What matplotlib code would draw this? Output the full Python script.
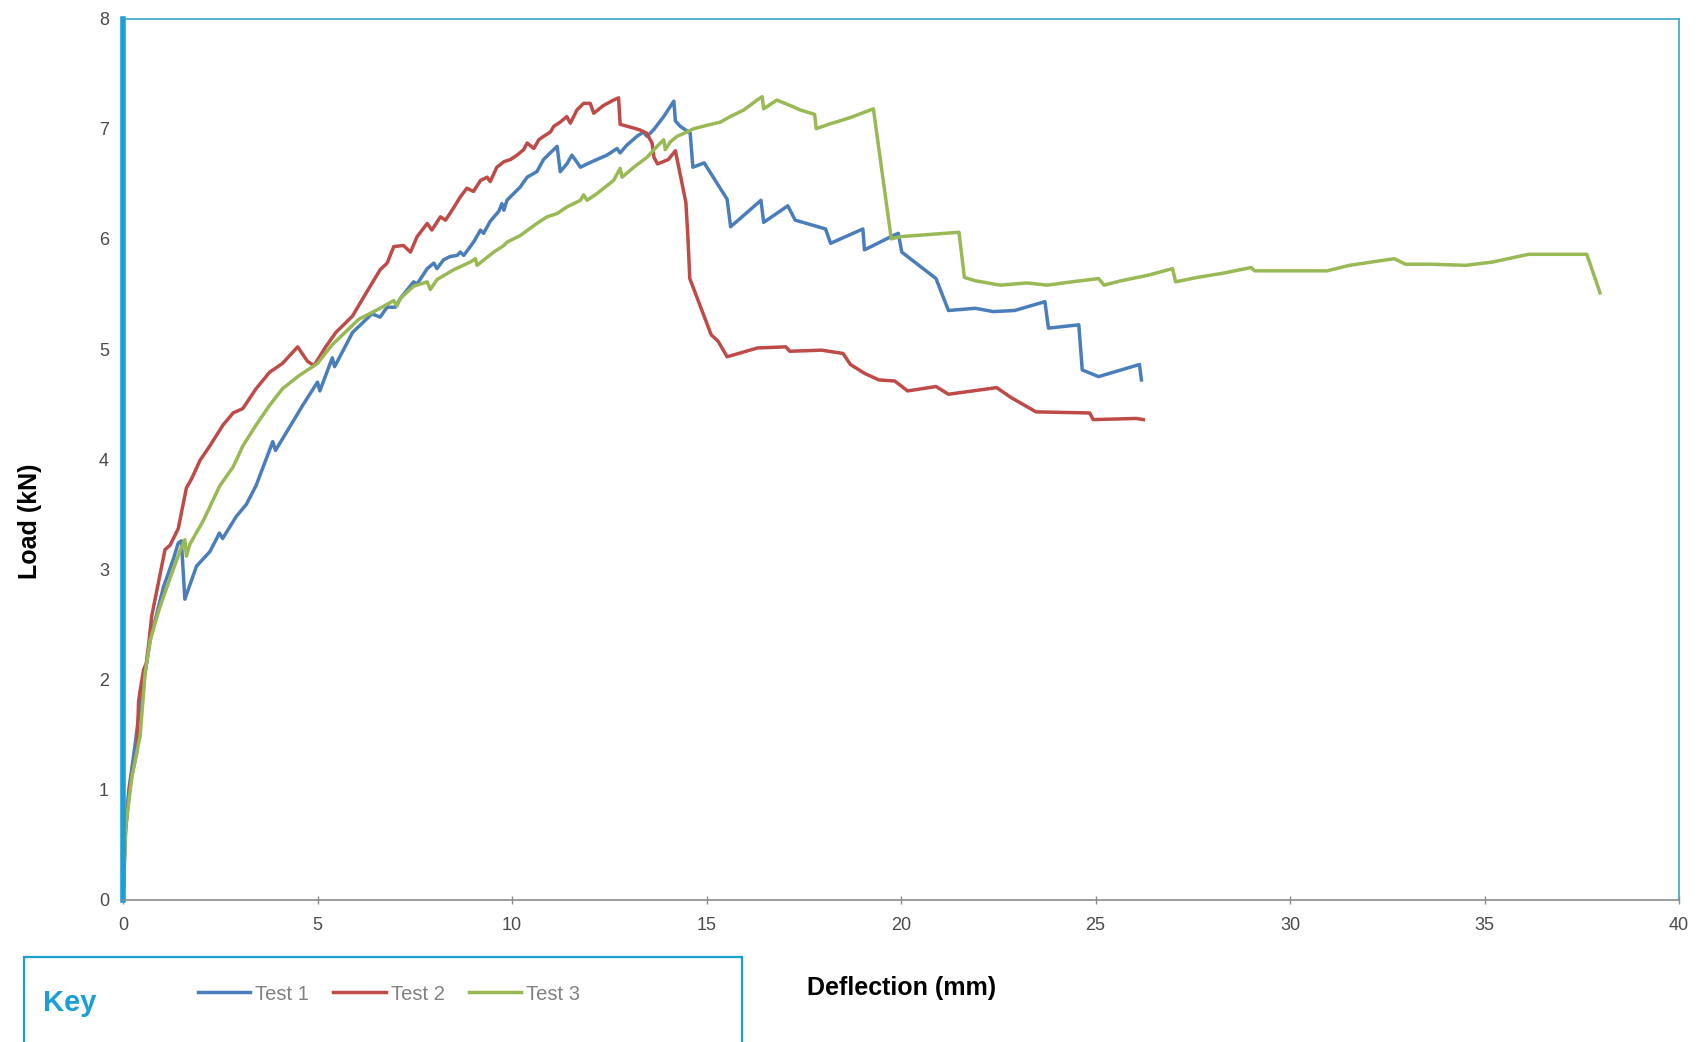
import matplotlib
matplotlib.use("Agg")
import matplotlib.pyplot as plt
from matplotlib.patches import Rectangle

plt.rcParams["font.family"] = ["Liberation Sans", "DejaVu Sans"]

# Test 1 (blue)
test1_x = [0, 0.05, 0.15, 0.3, 0.45, 0.7, 1.04, 1.3, 1.42, 1.5, 1.59, 1.89, 2.23, 2.48, 2.56,
           2.91, 3.17, 3.42, 3.85, 3.92, 4.28, 4.62, 5.0, 5.06, 5.38, 5.44, 5.9, 6.4, 6.61,
           6.79, 7.0, 7.13, 7.47, 7.56, 7.82, 7.99, 8.07, 8.24, 8.41, 8.59, 8.67, 8.76, 9.01,
           9.19, 9.27, 9.44, 9.66, 9.74, 9.79, 9.87, 10.21, 10.39, 10.64, 10.81, 11.07, 11.16,
           11.24, 11.41, 11.54, 11.76, 11.93, 12.18, 12.44, 12.70, 12.78, 12.95, 13.21, 13.38,
           13.47, 13.64, 13.90, 14.16, 14.20, 14.33, 14.58, 14.65, 14.94, 15.53, 15.62, 16.40,
           16.47, 17.09, 17.28, 18.06, 18.19, 19.02, 19.06, 19.80, 19.93, 20.02, 20.90, 21.22,
           21.91, 22.37, 22.92, 23.70, 23.79, 24.57, 24.66, 25.08, 26.13, 26.18]
test1_y = [0, 0.6, 1.0, 1.38, 1.8, 2.36, 2.84, 3.1, 3.24, 3.26, 2.73, 3.03, 3.16, 3.33, 3.28,
           3.48, 3.59, 3.76, 4.16, 4.08, 4.29, 4.49, 4.7, 4.62, 4.92, 4.84, 5.15, 5.32, 5.29,
           5.38, 5.38, 5.46, 5.61, 5.59, 5.73, 5.78, 5.73, 5.81, 5.84, 5.85, 5.88, 5.85, 5.97,
           6.08, 6.05, 6.16, 6.25, 6.32, 6.26, 6.35, 6.47, 6.56, 6.61, 6.72, 6.81, 6.84,
           6.61, 6.68, 6.76, 6.65, 6.68, 6.72, 6.76, 6.82, 6.78, 6.85, 6.93, 6.97,
           6.93, 6.99, 7.11, 7.25, 7.07, 7.02, 6.96, 6.65, 6.69, 6.36, 6.11, 6.35,
           6.15, 6.30, 6.17, 6.09, 5.96, 6.09, 5.90, 6.03, 6.05, 5.88, 5.64, 5.35,
           5.37, 5.34, 5.35, 5.43, 5.19, 5.22, 4.81, 4.75, 4.86, 4.72]

# Test 2 (red)
test2_x = [0, 0.06, 0.18, 0.36, 0.40, 0.44, 0.53, 0.60, 0.66, 0.74, 0.91, 1.08, 1.21, 1.42,
           1.63, 1.76, 1.98, 2.23, 2.57, 2.83, 3.08, 3.42, 3.77, 4.10, 4.49, 4.74, 4.91, 5.21,
           5.47, 5.90, 6.15, 6.61, 6.79, 6.96, 7.21, 7.39, 7.56, 7.82, 7.94, 8.16, 8.29, 8.46,
           8.67, 8.84, 9.01, 9.19, 9.36, 9.44, 9.61, 9.79, 9.96, 10.13, 10.30, 10.39, 10.56,
           10.69, 10.81, 10.99, 11.07, 11.24, 11.41, 11.50, 11.67, 11.84, 12.01, 12.10, 12.35,
           12.61, 12.74, 12.78, 13.28, 13.46, 13.60, 13.65, 13.74, 14.02, 14.20, 14.47, 14.52,
           14.57, 15.12, 15.30, 15.53, 16.31, 17.04, 17.14, 17.96, 18.51, 18.70, 19.06, 19.43,
           19.84, 20.17, 20.90, 21.22, 22.46, 22.83, 23.47, 24.85, 24.94, 26.04, 26.23]
test2_y = [0, 0.6, 1.05, 1.35, 1.8, 1.9, 2.09, 2.15, 2.32, 2.58, 2.88, 3.18, 3.22, 3.37,
           3.74, 3.82, 3.99, 4.12, 4.31, 4.42, 4.46, 4.64, 4.79, 4.87, 5.02, 4.89, 4.85, 5.02,
           5.15, 5.30, 5.45, 5.72, 5.78, 5.93, 5.94, 5.88, 6.02, 6.14, 6.08, 6.20, 6.17, 6.26,
           6.38, 6.46, 6.43, 6.53, 6.56, 6.52, 6.65, 6.70, 6.72, 6.76, 6.81, 6.87, 6.82,
           6.90, 6.93, 6.97, 7.02, 7.06, 7.11, 7.05, 7.17, 7.23, 7.23, 7.14, 7.21,
           7.26, 7.28, 7.04, 6.99, 6.96, 6.87, 6.74, 6.68, 6.72, 6.80, 6.33, 6.03,
           5.64, 5.13, 5.07, 4.93, 5.01, 5.02, 4.98, 4.99, 4.96, 4.86, 4.78, 4.72,
           4.71, 4.62, 4.66, 4.59, 4.65, 4.56, 4.43, 4.42, 4.36, 4.37, 4.36]

# Test 3 (green)
test3_x = [0, 0.08, 0.23, 0.44, 0.57, 0.70, 0.95, 1.25, 1.50, 1.59, 1.63, 1.72, 2.06, 2.49,
           2.83, 3.08, 3.42, 3.77, 4.10, 4.53, 5.0, 5.38, 6.06, 6.61, 6.96, 7.04, 7.13, 7.47,
           7.82, 7.90, 8.07, 8.50, 8.93, 9.06, 9.10, 9.53, 9.79, 9.87, 10.21, 10.64, 10.90,
           11.16, 11.41, 11.76, 11.84, 11.93, 12.18, 12.61, 12.78, 12.83, 13.13, 13.47, 13.73,
           13.90, 13.94, 14.07, 14.24, 14.50, 14.67, 15.01, 15.36, 15.61, 15.96, 16.30, 16.43,
           16.47, 16.81, 17.15, 17.41, 17.59, 17.78, 17.82, 18.14, 18.69, 19.29, 19.75, 19.98,
           21.49, 21.63, 21.91, 22.55, 23.24, 23.76, 24.39, 25.08, 25.22, 25.66, 26.35, 26.98,
           27.06, 27.61, 28.30, 29.00, 29.09, 30.03, 30.95, 31.53, 32.10, 32.68, 32.97, 33.60,
           34.52, 35.21, 36.13, 37.63, 37.97]
test3_y = [0, 0.7, 1.12, 1.49, 2.06, 2.36, 2.66, 2.96, 3.2, 3.27, 3.12, 3.23, 3.44, 3.76,
           3.93, 4.12, 4.31, 4.49, 4.64, 4.76, 4.87, 5.04, 5.27, 5.37, 5.44, 5.39, 5.46, 5.57,
           5.61, 5.54, 5.63, 5.72, 5.79, 5.82, 5.76, 5.88, 5.94, 5.97, 6.03, 6.14, 6.20,
           6.23, 6.29, 6.35, 6.40, 6.35, 6.41, 6.53, 6.64, 6.56, 6.65, 6.74, 6.84,
           6.90, 6.81, 6.88, 6.93, 6.97, 7.00, 7.03, 7.06, 7.11, 7.17, 7.26, 7.29,
           7.18, 7.26, 7.21, 7.17, 7.15, 7.13, 7.00, 7.04, 7.10, 7.18, 6.00, 6.02,
           6.06, 5.65, 5.62, 5.58, 5.60, 5.58, 5.61, 5.64, 5.58, 5.62, 5.67, 5.73,
           5.61, 5.65, 5.69, 5.74, 5.71, 5.71, 5.71, 5.76, 5.79, 5.82, 5.77, 5.77,
           5.76, 5.79, 5.86, 5.86, 5.51]

x_ticks = [0, 5, 10, 15, 20, 25, 30, 35, 40]
y_ticks = [0, 1, 2, 3, 4, 5, 6, 7, 8]

W, H = 1702, 1042
fig = plt.figure(figsize=(W / 100, H / 100), dpi=100)
ax = fig.add_axes([123 / W, 1 - 900 / H, 1556 / W, 881.5 / H])

ax.plot(test1_x, test1_y, color="#4A7EBB", lw=2.5, label="Test 1")
ax.plot(test2_x, test2_y, color="#BE4B48", lw=2.5, label="Test 2")
ax.plot(test3_x, test3_y, color="#98B954", lw=2.5, label="Test 3")

ax.set_xlim(0, 40)
ax.set_ylim(0, 8)
ax.set_xticks(x_ticks)
ax.set_yticks(y_ticks)

ax.spines["left"].set_color("#1b9fd6")
ax.spines["left"].set_linewidth(4)
for side in ("top", "right"):
    ax.spines[side].set_color("#3aa6cc")
    ax.spines[side].set_linewidth(1.2)
ax.spines["bottom"].set_color("#8c8c8c")
ax.spines["bottom"].set_linewidth(1.2)

ax.tick_params(axis="x", direction="inout", length=6, width=1, color="#8c8c8c",
               labelsize=13, labelcolor="#4a4a4a", pad=9)
ax.tick_params(axis="y", length=0, labelsize=13, labelcolor="#4a4a4a", pad=10)

ax.set_xlabel("Deflection (mm)", fontsize=18, fontweight="bold", va="center")
ax.xaxis.set_label_coords(0.5006, -0.0998)
ax.set_ylabel("Load (kN)", fontsize=18, fontweight="bold", va="center")
ax.yaxis.set_label_coords(-0.0598, 0.43)

# key box under the chart
fig.patches.append(Rectangle((24 / W, -0.05), 718 / W, 0.05 + 1 - 957 / H,
                             transform=fig.transFigure, fill=False,
                             edgecolor="#1b9fd6", lw=1.6))
fig.text(43 / W, 1 - 1003 / H, "Key", color="#1b9fd6", fontsize=21,
         fontweight="heavy", ha="left", va="center")
ax.legend(loc="center left", bbox_to_anchor=(198 / W, 1 - 994 / H),
          bbox_transform=fig.transFigure, ncol=3, frameon=False, fontsize=14.5,
          labelcolor="#808080", handlelength=2.6, handletextpad=0.25,
          columnspacing=1.2, borderpad=0, borderaxespad=0)

fig.savefig("out.png", dpi=100)
